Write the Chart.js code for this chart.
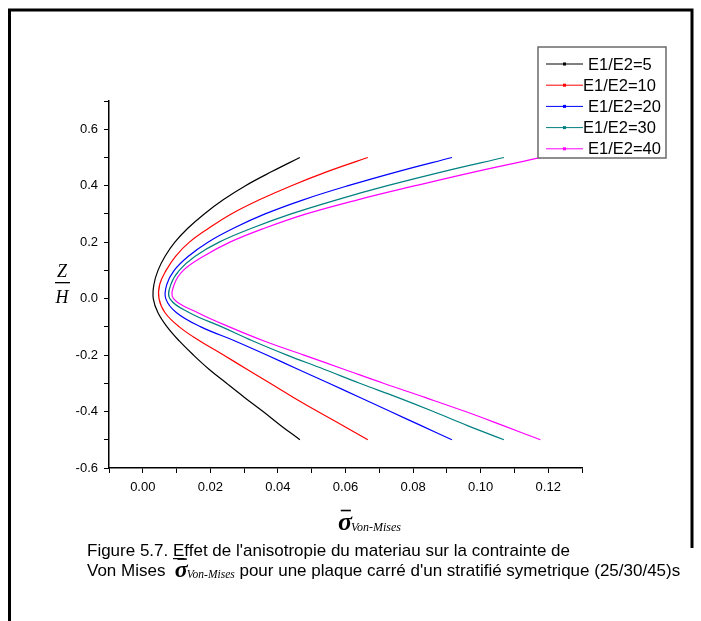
<!DOCTYPE html>
<html>
<head>
<meta charset="utf-8">
<title>Von Mises - effet de l'anisotropie</title>
<script src="https://cdn.jsdelivr.net/npm/chart.js@4.4.1/dist/chart.umd.min.js"></script>
<style>
  html, body { margin: 0; padding: 0; background: #fff; }
  #wrap { position: relative; width: 701px; height: 621px; }
</style>
</head>
<body>
<div id="wrap"><canvas id="vonMisesChart"></canvas></div>
<script>
// Z/H positions through the thickness
const zPositions = [-0.5, -0.45, -0.4, -0.35, -0.3, -0.25, -0.2, -0.15, -0.1, -0.05, 0,
                    0.05, 0.1, 0.15, 0.2, 0.25, 0.3, 0.35, 0.4, 0.45, 0.5];

// normalised Von Mises stress, one value per z position
const sigmaE5  = [0.0465, 0.0409, 0.0356, 0.0301, 0.0248, 0.0196, 0.0150, 0.0108, 0.0072, 0.0045, 0.0031,
                  0.0033, 0.0045, 0.0066, 0.0095, 0.0134, 0.0182, 0.0238, 0.0304, 0.0382, 0.0465];
const sigmaE10 = [0.0666, 0.0593, 0.0518, 0.0446, 0.0377, 0.0308, 0.0239, 0.0169, 0.0108, 0.0066, 0.0048,
                  0.0050, 0.0069, 0.0097, 0.0138, 0.0196, 0.0262, 0.0345, 0.0440, 0.0546, 0.0666];
const sigmaE20 = [0.0915, 0.0824, 0.0733, 0.0643, 0.0551, 0.0459, 0.0367, 0.0273, 0.0172, 0.0100, 0.0068,
                  0.0071, 0.0093, 0.0135, 0.0193, 0.0270, 0.0362, 0.0475, 0.0608, 0.0755, 0.0915];
const sigmaE30 = [0.1069, 0.0961, 0.0860, 0.0754, 0.0642, 0.0536, 0.0427, 0.0326, 0.0234, 0.0138, 0.0080,
                  0.0083, 0.0108, 0.0155, 0.0226, 0.0324, 0.0439, 0.0574, 0.0724, 0.0889, 0.1069];
const sigmaE40 = [0.1177, 0.1067, 0.0955, 0.0835, 0.0712, 0.0595, 0.0477, 0.0359, 0.0256, 0.0163, 0.0091,
                  0.0093, 0.0120, 0.0180, 0.0258, 0.0362, 0.0484, 0.0636, 0.0807, 0.0986, 0.1180];

const seriesLabels = ['E1/E2=5', 'E1/E2=10', 'E1/E2=20', 'E1/E2=30', 'E1/E2=40'];
const seriesColors = ['#000000', '#ff0000', '#0000ff', '#008080', '#ff00ff'];
const seriesSigma = [sigmaE5, sigmaE10, sigmaE20, sigmaE30, sigmaE40];

// axis ticks
const xTickValues = [-0.01, 0, 0.01, 0.02, 0.03, 0.04, 0.05, 0.06, 0.07, 0.08, 0.09, 0.10, 0.11, 0.12, 0.13];
const xTickLabels = [0, 0.02, 0.04, 0.06, 0.08, 0.10, 0.12];
const yTickValues = [-0.6, -0.5, -0.4, -0.3, -0.2, -0.1, 0, 0.1, 0.2, 0.3, 0.4, 0.5, 0.6, 0.7];
const yTickLabels = [-0.6, -0.4, -0.2, 0, 0.2, 0.4, 0.6];

const captionLine1 = "Figure 5.7. Effet de l'anisotropie du materiau sur la contrainte de";
const captionLine2a = 'Von Mises';
const captionLine2b = "pour une plaque carré d'un stratifié symetrique (25/30/45)s";

const SANS = '"Liberation Sans", Arial, sans-serif';
const SERIF = '"Liberation Serif", "Times New Roman", serif';

const isIn = (v, list) => list.some(l => Math.abs(l - v) < 1e-6);

// sigma with overbar and "Von-Mises" subscript
function drawSigma(ctx, x, baseline, size, subSize) {
  ctx.textAlign = 'left';
  ctx.textBaseline = 'alphabetic';
  ctx.font = 'italic bold ' + size + 'px ' + SERIF;
  ctx.fillText('σ', x, baseline);
  const w = ctx.measureText('σ').width;
  ctx.fillRect(x + w * 0.2, baseline - size * 0.78, w * 0.72, 1.6);
  ctx.font = 'italic ' + subSize + 'px ' + SERIF;
  ctx.fillText('Von-Mises', x + w - 1, baseline + 1);
  return w - 1 + ctx.measureText('Von-Mises').width;
}

const decorPlugin = {
  id: 'decor',
  afterDraw(chart) {
    const ctx = chart.ctx;
    ctx.save();
    ctx.fillStyle = '#000';
    ctx.strokeStyle = '#000';

    // page frame
    ctx.lineWidth = 3;
    ctx.beginPath();
    ctx.moveTo(9.5, 621);
    ctx.lineTo(9.5, 10);
    ctx.lineTo(692, 10);
    ctx.lineTo(692, 548);
    ctx.stroke();

    // y title Z / H
    ctx.font = 'italic 18px ' + SERIF;
    ctx.textAlign = 'center';
    ctx.textBaseline = 'alphabetic';
    ctx.fillText('Z', 62, 277);
    ctx.fillText('H', 62, 303);
    ctx.fillRect(55, 282, 15, 1.3);

    // x title
    drawSigma(ctx, 338, 530, 26, 12);

    // legend
    const lx = 538, ly = 47, lw = 128, lh = 111;
    ctx.fillStyle = '#fff';
    ctx.fillRect(lx, ly, lw, lh);
    ctx.strokeStyle = '#6a6a6a';
    ctx.lineWidth = 1.5;
    ctx.strokeRect(lx, ly, lw, lh);
    const textX = [588, 583, 588, 583, 588];
    chart.data.datasets.forEach((ds, i) => {
      const y = 64 + i * 21.2;
      ctx.strokeStyle = ds.borderColor;
      ctx.lineWidth = 1;
      ctx.beginPath();
      ctx.moveTo(546, y);
      ctx.lineTo(583, y);
      ctx.stroke();
      ctx.fillStyle = ds.borderColor;
      ctx.fillRect(563, y - 1.5, 3, 3);
      ctx.fillStyle = '#000';
      ctx.font = '16.5px ' + SANS;
      ctx.textAlign = 'left';
      ctx.textBaseline = 'middle';
      ctx.fillText(ds.label, textX[i], y + 1);
    });

    // caption
    ctx.fillStyle = '#000';
    ctx.font = '17px ' + SANS;
    ctx.textAlign = 'left';
    ctx.textBaseline = 'alphabetic';
    ctx.fillText(captionLine1, 87, 556);
    const eW = ctx.measureText('E').width;
    const preW = ctx.measureText('Figure 5.7. ').width;
    ctx.fillRect(87 + preW, 558, eW, 1.2);
    ctx.fillText(captionLine2a, 87, 576);
    let x2 = 87 + ctx.measureText(captionLine2a + '  ').width;
    x2 += drawSigma(ctx, x2, 577, 24, 11.5);
    ctx.font = '17px ' + SANS;
    ctx.fillText(' ' + captionLine2b, x2, 576);
    ctx.restore();
  }
};

const ctx = document.getElementById('vonMisesChart');
new Chart(ctx, {
  type: 'scatter',
  data: {
    datasets: seriesLabels.map((label, i) => ({
      label: label,
      data: zPositions.map((z, k) => ({ x: seriesSigma[i][k], y: z })),
      showLine: true,
      borderColor: seriesColors[i],
      backgroundColor: seriesColors[i],
      borderWidth: 1.2,
      pointRadius: 0,
      tension: 0.4,
      fill: false
    }))
  },
  options: {
    responsive: true,
    maintainAspectRatio: false,
    animation: false,
    layout: { padding: { left: 0, right: 119, top: 101, bottom: 93 } },
    plugins: {
      legend: { display: false },
      tooltip: { enabled: false }
    },
    scales: {
      x: {
        type: 'linear',
        min: -0.01,
        max: 0.13,
        afterFit: (scale) => { scale.height = 60; },
        afterBuildTicks: (axis) => { axis.ticks = xTickValues.map(v => ({ value: v })); },
        ticks: {
          autoSkip: false,
          maxRotation: 0,
          padding: 7,
          color: '#000',
          font: { family: SANS, size: 13 },
          callback: (v) => isIn(v, xTickLabels) ? v.toFixed(2) : ''
        },
        grid: { drawOnChartArea: false, drawTicks: true, tickLength: 5, tickColor: '#000', tickWidth: 1 },
        border: { color: '#000', width: 1.5 }
      },
      y: {
        type: 'linear',
        min: -0.6,
        max: 0.7,
        afterFit: (scale) => { scale.width = 109; },
        afterBuildTicks: (axis) => { axis.ticks = yTickValues.map(v => ({ value: v })); },
        ticks: {
          autoSkip: false,
          padding: 6,
          color: '#000',
          font: { family: SANS, size: 13 },
          callback: (v) => isIn(v, yTickLabels) ? (Math.abs(v) < 1e-9 ? '0.0' : v.toFixed(1)) : ''
        },
        grid: { drawOnChartArea: false, drawTicks: true, tickLength: 5, tickColor: '#000', tickWidth: 1 },
        border: { color: '#000', width: 1.5 }
      }
    }
  },
  plugins: [decorPlugin]
});
</script>
</body>
</html>
